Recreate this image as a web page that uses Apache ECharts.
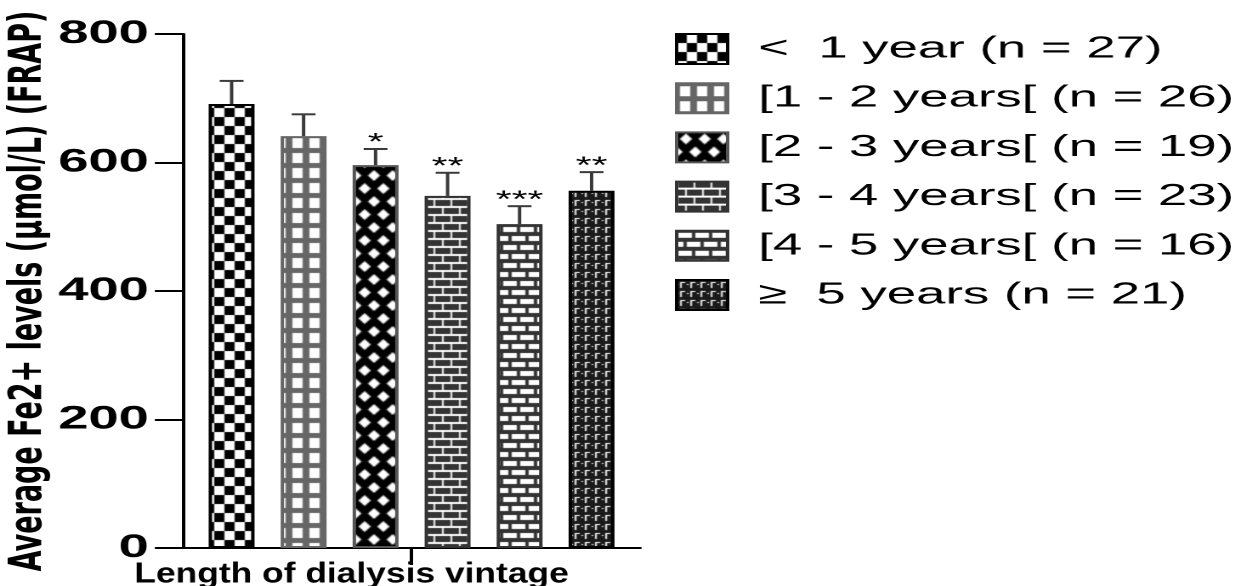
<!DOCTYPE html>
<html>
<head>
<meta charset="utf-8">
<script src="https://cdn.jsdelivr.net/npm/echarts@6/dist/echarts.min.js"></script>
<style>
  html, body { margin: 0; padding: 0; background: #fff; overflow: hidden; }
  /* the source figure is stretched horizontally, so draw narrow and stretch */
  #main { width: 733px; height: 586px; transform: scaleX(1.7); transform-origin: 0 0; }
</style>
</head>
<body>
<div id="main"></div>
<script>
// data
const groups = ['<  1 year (n = 27)', '[1 - 2 years[ (n = 26)', '[2 - 3 years[ (n = 19)',
                '[3 - 4 years[ (n = 23)', '[4 - 5 years[ (n = 16)', '\u2265  5 years (n = 21)'];
const means = [691, 641, 596, 548, 504, 556];
const sems = [36, 34, 25, 36, 28, 29];
const stars = ['', '', '*', '**', '***', '**'];
const xCategory = ['Length of dialysis vintage'];
const yMin = 0, yMax = 800, yStep = 200;

const stretch = 1.7;
const barW = 27;
const barGapPct = 0.5685;
const step = barW * (1 + barGapPct);

function tile(w, h, draw) {
    const c = document.createElement('canvas');
    c.width = w; c.height = h;
    draw(c.getContext('2d'), w, h);
    return {image: c, repeat: 'repeat'};
}

const patterns = [
    tile(12, 18, (g) => {          // checkerboard
        g.fillStyle = '#fff'; g.fillRect(0, 0, 12, 18);
        g.fillStyle = '#000'; g.fillRect(0, 0, 6, 9); g.fillRect(6, 9, 6, 9);
    }),
    tile(10, 15, (g) => {          // grey grid
        g.fillStyle = '#666'; g.fillRect(0, 0, 10, 15);
        g.fillStyle = '#fff'; g.fillRect(2, 3, 6, 10);
    }),
    tile(11, 26, (g) => {          // diamond lattice
        g.fillStyle = '#000'; g.fillRect(0, 0, 11, 26);
        g.fillStyle = '#fff';
        const dia = (x, y) => {
            g.beginPath();
            g.moveTo(x - 3.6, y); g.lineTo(x, y - 5.4); g.lineTo(x + 3.6, y); g.lineTo(x, y + 5.4);
            g.closePath(); g.fill();
        };
        dia(5.5, 6.5); dia(0, 19.5); dia(11, 19.5);
    }),
    tile(10, 16, (g) => {          // dark bricks
        g.fillStyle = '#fff'; g.fillRect(0, 0, 10, 16);
        g.fillStyle = '#333';
        g.fillRect(1, 0, 9, 6);
        g.fillRect(0, 8, 5, 6); g.fillRect(6, 8, 4, 6);
    }),
    tile(10, 18, (g) => {          // white bricks
        g.fillStyle = '#333'; g.fillRect(0, 0, 10, 18);
        g.fillStyle = '#fff';
        g.fillRect(1, 2, 8, 5);
        g.fillRect(0, 11, 4, 5); g.fillRect(6, 11, 4, 5);
    }),
    tile(6, 9, (g) => {            // small white corners on black
        g.fillStyle = '#1a1a1a'; g.fillRect(0, 0, 6, 9);
        g.fillStyle = '#fff';
        g.fillRect(2, 2, 1, 6); g.fillRect(2, 2, 3, 1);
        g.fillRect(0, 4, 1, 1);
    })
];
const borders = ['#000', '#666', '#555', '#333', '#333', '#000'];

const chart = echarts.init(document.getElementById('main'), null, {devicePixelRatio: 2});

const barSeries = groups.map((name, i) => ({
    name: name,
    type: 'bar',
    data: [means[i]],
    barWidth: barW,
    barGap: (barGapPct * 100) + '%',
    itemStyle: {color: patterns[i], borderColor: borders[i], borderWidth: 2},
    emphasis: {disabled: true}
}));

const errSeries = {
    type: 'custom',
    silent: true,
    z: 5,
    clip: false,
    data: means.map((m, i) => [0, m, sems[i], i]),
    renderItem: function (params, api) {
        const i = api.value(3);
        const base = api.coord([0, api.value(1)]);
        const top = api.coord([0, api.value(1) + api.value(2)]);
        const cx = base[0] + (i - 2.5) * step;
        const st = {stroke: '#3a3a3a', lineWidth: 2};
        const kids = [
            {type: 'line', shape: {x1: cx, y1: base[1], x2: cx, y2: top[1]}, style: st},
            {type: 'line', shape: {x1: cx - 7, y1: top[1], x2: cx + 7, y2: top[1]}, style: st}
        ];
        if (stars[i]) {
            kids.push({type: 'text', style: {
                text: stars[i], x: cx, y: top[1] + 6, align: 'center', verticalAlign: 'bottom',
                fontSize: 24, fontFamily: 'Liberation Sans', fill: '#000'
            }});
        }
        return {type: 'group', children: kids};
    }
};

chart.setOption({
    animation: false,
    graphic: [{
        // axis title: less stretched than the rest of the figure
        type: 'text',
        left: 79,
        top: 560,
        scaleX: 1.22 / stretch,
        style: {text: xCategory[0], fontSize: 29, fontWeight: 'bold', fill: '#000',
                fontFamily: 'Liberation Sans'}
    }],
    legend: {
        orient: 'vertical',
        left: 397,
        top: 33,
        padding: 0,
        itemWidth: 30,
        itemHeight: 30,
        itemGap: 17.2,
        icon: 'rect',
        selectedMode: false,
        data: groups,
        textStyle: {fontSize: 31, lineHeight: 30, color: '#000', fontFamily: 'Liberation Sans',
                    padding: [0, 0, 0, 13]}
    },
    grid: {left: 107.6, top: 34, width: 269, height: 514, containLabel: false, outerBoundsMode: 'none'},
    xAxis: {
        type: 'category',
        data: xCategory,
        axisLine: {show: true, lineStyle: {color: '#000', width: 2}},
        axisTick: {show: true, alignWithLabel: true, length: 17, lineStyle: {color: '#000', width: 2}},
        axisLabel: {show: false},
        splitLine: {show: false}
    },
    yAxis: {
        type: 'value',
        min: yMin,
        max: yMax,
        interval: yStep,
        name: 'Average Fe2+ levels (\u00b5mol/L) (FRAP)',
        nameLocation: 'middle',
        nameRotate: 90,
        nameGap: 62,
        nameTextStyle: {fontSize: 27, fontWeight: 'bold', color: '#000', fontFamily: 'DejaVu Sans'},
        axisLine: {show: true, lineStyle: {color: '#000', width: 2}},
        axisTick: {show: true, length: 16.5, lineStyle: {color: '#000', width: 2}},
        axisLabel: {fontSize: 32, fontWeight: 'bold', color: '#000', fontFamily: 'Liberation Sans', margin: 20},
        splitLine: {show: false}
    },
    series: barSeries.concat([errSeries])
});
</script>
</body>
</html>
